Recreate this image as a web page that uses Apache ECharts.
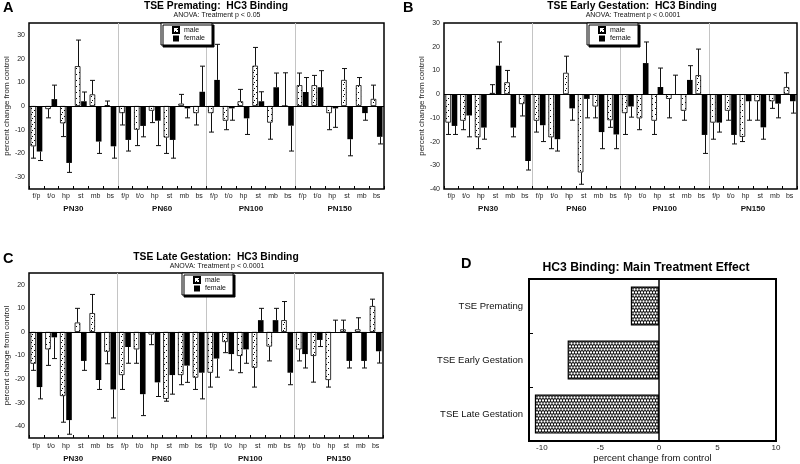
<!DOCTYPE html>
<html><head><meta charset="utf-8">
<script src="https://cdn.jsdelivr.net/npm/echarts@6/dist/echarts.min.js"></script>
<style>html,body{margin:0;padding:0;background:#fff}#c{width:800px;height:464px}</style>
</head><body><div id="c"></div>
<script>
// ---------- data ----------
const regions = ['f/p','t/o','hp','st','mb','bs'];
const ages = ['PN30','PN60','PN100','PN150'];
const legendNames = ['male','female'];

// Panel A: TSE Premating (error values signed: direction of the error bar)
const A_male      = [-17,-1.3,-7.3,16.8,4.9,0.3, -3,-10,-2,-13.3,1,-3, -3,-6.2,2,17,-7,0, 8.8,8.8,-3,11,8.8,3];
const A_maleErr   = [-5,-3.7,-5.6,11,5.9,1.8, -5,-6.7,-5,-6.7,3.9,-5, -8,-3.8,5,7.7,-7,14, 5.1,4.1,-7,4.8,3.2,5.8];
const A_female    = [-19.2,2.9,-24,2,-15,-17, -14.3,-8.4,-6.2,-14.3,-1,6, 11,-1,-5.2,2,7.9,-8.3, 5.9,7.9,-1,-14,-3,-13];
const A_femaleErr = [-3.8,5.9,-4,3.9,-5,-5, -4.7,-4.6,-10.5,-7.7,-4,10.8, 15,-5,-6.8,4,6,-10.7, 6.1,7,-8,-7,-3,-3];

// Panel B: TSE Early Gestation
const B_male      = [-12,-11.2,-18.2,0.5,5,-4.2, -11.2,-18.2,9,-33,-5.2,-11, -8,-10.2,-11.2,-2,-7,8, -12,-7,-18,-3,-3,3];
const B_maleErr   = [-5,-3.8,-4.8,3.5,5,-5, -4.8,-4.8,7,-5,-4.8,-3, -9,-4.8,-5.8,-8,-4,11, -7,-4,-2,-8,-3,6];
const B_female    = [-13.4,-9,-14.1,12,-14.1,-28.2, -13.1,-19,-6,-2,-16,-17, -5.2,13.1,3,0,6,-17.2, -12,-17.2,-3,-14,-4,-3];
const B_femaleErr = [-3.6,-9,-4.9,10,-3.9,-3.8, -6.9,-5,-5,-8,-7,-6, -4.5,8.9,8,8,6,-7.8, -4,-3.8,-8,-5,-6,-5];

// Panel C: TSE Late Gestation
const C_male      = [-13.5,-7.4,-27.2,4,8,-8.4, -18.3,-7.4,-1.1,-28.4,-18.3,-19.4, -17.3,-4.3,-10.2,-15.2,-6.2,5, -7.4,-10.2,-20.4,1.1,1.1,11];
const C_maleErr   = [-2.8,-6.8,-11.1,6,7.9,-5.1, -6.1,-5.9,-4.3,-1,-4.1,-5, -6.1,-4.5,-7.1,-8.2,-6.1,7.9, -4.9,-11.1,-3,3.9,4.9,2.9];
const C_female    = [-23.4,-2.3,-37.4,-12.3,-20.4,-24.4, -6.4,-26.4,-21.4,-18.3,-14.3,-17.3, -11.3,-9.4,-7.4,5,5,-17.3, -9.4,-3.4,0,-12.3,-12.3,-8.2];
const C_femaleErr = [-5,-9,-6,-4,-4,-12.1, -6.9,-9.1,-6,-8.1,-7.1,-11.1, -7.9,-6.8,-5.9,5,5,-5.1, -5.9,-2.8,5,-3,-3,-5];

// Panel D: main treatment effect
const D_categories = ['TSE Premating','TSE Early Gestation','TSE Late Gestation'];
const D_values = [-2.4,-7.8,-10.6];
const D_ticks = [-10,-5,0,5,10];

const titles = [
  {letter:'A', title:'TSE Premating:  HC3 Binding', sub:'ANOVA: Treatment p < 0.05'},
  {letter:'B', title:'TSE Early Gestation:  HC3 Binding', sub:'ANOVA: Treatment p < 0.0001'},
  {letter:'C', title:'TSE Late Gestation:  HC3 Binding', sub:'ANOVA: Treatment p < 0.0001'}
];

// ---------- patterns ----------
function sparseDots(){
  const c=document.createElement('canvas'); c.width=6; c.height=6;
  const g=c.getContext('2d'); g.fillStyle='#fff'; g.fillRect(0,0,6,6);
  g.fillStyle='#000'; g.fillRect(1,0,1,1); g.fillRect(4,2,1,1); g.fillRect(2,4,1,1);
  return c;
}
function denseDots(){
  const c=document.createElement('canvas'); c.width=6; c.height=6;
  const g=c.getContext('2d'); g.fillStyle='#111'; g.fillRect(0,0,6,6);
  g.fillStyle='#fff';
  [[1.5,1.5],[4.5,1.5],[0,4.5],[3,4.5],[6,4.5]].forEach(p=>{g.beginPath();g.arc(p[0],p[1],1.15,0,Math.PI*2);g.fill();});
  return c;
}
const malePattern = {image: sparseDots(), repeat:'repeat'};
const dPattern = {image: denseDots(), repeat:'repeat'};

const FONT = '"Liberation Sans", Arial, Helvetica, sans-serif';
const cats24 = [].concat(...ages.map(()=>regions));

const panels = [
  {grid:{left:29, top:23, width:355, height:166}, male:A_male, maleErr:A_maleErr, female:A_female, femaleErr:A_femaleErr, min:-35, max:35, catMargin:4, grpMargin:16, legend:{left:161, top:23}, tx:216, ty:6},
  {grid:{left:444, top:23, width:353, height:166}, male:B_male, maleErr:B_maleErr, female:B_female, femaleErr:B_femaleErr, min:-40, max:30, catMargin:4, grpMargin:16, legend:{left:587, top:23}, tx:632, ty:6},
  {grid:{left:29, top:273, width:354, height:165}, male:C_male, maleErr:C_maleErr, female:C_female, femaleErr:C_femaleErr, min:-45, max:25, catMargin:5, grpMargin:17, legend:{left:182, top:273}, tx:216, ty:257}
];

const BW = 5.6, OFF = 3.15;
function renderErr(params, api){
  const i=api.value(0), v=api.value(1), e=api.value(2), s=api.value(3);
  const p0=api.coord([i,v]), p1=api.coord([i,v+e]);
  const x=Math.round(p0[0]+s*OFF)+0.5;
  return {type:'group', children:[
    {type:'line', shape:{x1:x,y1:p0[1],x2:x,y2:p1[1]}, style:{stroke:'#111', lineWidth:1}},
    {type:'line', shape:{x1:x-2.5,y1:p1[1],x2:x+2.5,y2:p1[1]}, style:{stroke:'#111', lineWidth:1}}
  ]};
}

const grid=[], xAxis=[], yAxis=[], series=[], legend=[], graphic=[];
panels.forEach((p,k)=>{
  grid.push(Object.assign({show:true, borderColor:'#000', borderWidth:1.5, backgroundColor:'#fff'}, p.grid));
  xAxis.push({type:'category', gridIndex:k, data:cats24, position:'bottom',
    axisLine:{show:false, onZero:false}, axisTick:{show:true, inside:true, length:3, interval:0, lineStyle:{color:'#000'}},
    axisLabel:{interval:0, fontSize:7, margin:p.catMargin, color:'#222'}, splitLine:{show:false}});
  xAxis.push({type:'category', gridIndex:k, data:ages, position:'bottom',
    axisLine:{show:false, onZero:false}, axisTick:{show:false},
    axisLabel:{interval:0, fontSize:8, fontWeight:'bold', margin:p.grpMargin, color:'#111'},
    splitLine:{show:true, interval:0, showMinLine:false, showMaxLine:false, lineStyle:{color:'#c4c4c4', width:1}}});
  yAxis.push({type:'value', gridIndex:k, min:p.min, max:p.max, interval:5,
    axisLine:{show:false, onZero:false}, axisTick:{show:false}, splitLine:{show:false},
    axisLabel:{fontSize:7, margin:4, color:'#222', formatter:v=>(v%10===0?String(v):'')},
    name:'percent change from control', nameLocation:'middle', nameGap:17,
    nameTextStyle:{fontSize:8, color:'#222'}});
  series.push({type:'bar', name:'male', xAxisIndex:2*k, yAxisIndex:k, data:p.male, barWidth:BW, barGap:'12%',
    itemStyle:{color:malePattern, borderColor:'#000', borderWidth:0.8},
    markLine:{silent:true, symbol:'none', label:{show:false}, lineStyle:{color:'#000', width:1, type:'solid'}, data:[{yAxis:0}]}});
  series.push({type:'bar', name:'female', xAxisIndex:2*k, yAxisIndex:k, data:p.female, barWidth:BW, barGap:'12%',
    itemStyle:{color:'#000'}});
  const errData = p.male.map((v,i)=>[i,v,p.maleErr[i],-1]).concat(p.female.map((v,i)=>[i,v,p.femaleErr[i],1]));
  series.push({type:'custom', name:'error', xAxisIndex:2*k, yAxisIndex:k, data:errData, renderItem:renderErr, z:3,
    encode:{x:0, y:1}});
  legend.push({left:p.legend.left, top:p.legend.top, orient:'vertical', data:legendNames, icon:'rect',
    itemWidth:6, itemHeight:6, itemGap:1, padding:[3,7,3,11], backgroundColor:'#fff', borderColor:'#000', borderWidth:1,
    shadowColor:'#000', shadowBlur:0, shadowOffsetX:2, shadowOffsetY:2, selectedMode:false,
    textStyle:{fontSize:7, color:'#111', lineHeight:7}});
  const t = titles[k];
  graphic.push({type:'text', x:(k===1?403:3), y:p.ty+1.5, style:{text:t.letter, fontSize:14.5, fontWeight:'bold', fontFamily:FONT, fill:'#000', align:'left', textAlign:'left', verticalAlign:'middle', textVerticalAlign:'middle'}});
  graphic.push({type:'text', x:p.tx, y:p.ty, style:{text:t.title, fontSize:10.3, fontWeight:'bold', fontFamily:FONT, fill:'#000', align:'center', textAlign:'center', verticalAlign:'middle', textVerticalAlign:'middle'}});
  graphic.push({type:'text', x:p.tx+1, y:p.ty+9, style:{text:t.sub, fontSize:7, fontFamily:FONT, fill:'#111', align:'center', textAlign:'center', verticalAlign:'middle', textVerticalAlign:'middle'}});
});

// Panel D
grid.push({show:true, left:529, top:279, width:247, height:164, borderColor:'#000', borderWidth:2, backgroundColor:'#fff'});
xAxis.push({type:'value', gridIndex:3, min:-11.1, max:10,
  axisLine:{show:false, onZero:false}, axisTick:{show:false}, splitLine:{show:false},
  axisLabel:{fontSize:8, margin:3, color:'#222', customValues:D_ticks, formatter:v=>(Math.abs(v%5)<1e-9?String(v):'')},
  name:'percent change from control', nameLocation:'middle', nameGap:10, nameTextStyle:{fontSize:9.5, color:'#111'}});
yAxis.push({type:'category', gridIndex:3, data:D_categories, inverse:true, position:'left',
  axisLine:{show:false, onZero:false}, axisTick:{show:true, inside:true, length:4, lineStyle:{color:'#000'}},
  axisLabel:{fontSize:9.5, margin:6, color:'#111'}});
series.push({type:'bar', name:'main effect', xAxisIndex:6, yAxisIndex:3, data:D_values, barWidth:39,
  itemStyle:{color:dPattern, borderColor:'#000', borderWidth:1.2},
  markLine:{silent:true, symbol:'none', label:{show:false}, lineStyle:{color:'#000', width:1.5, type:'solid'}, data:[{xAxis:0}]}});
graphic.push({type:'text', x:461, y:264, style:{text:'D', fontSize:14.5, fontWeight:'bold', fontFamily:FONT, fill:'#000', align:'left', textAlign:'left', verticalAlign:'middle', textVerticalAlign:'middle'}});
graphic.push({type:'text', x:646, y:268, style:{text:'HC3 Binding: Main Treatment Effect', fontSize:12.2, fontWeight:'bold', fontFamily:FONT, fill:'#000', align:'center', textAlign:'center', verticalAlign:'middle', textVerticalAlign:'middle'}});

const chart = echarts.init(document.getElementById('c'), null, {renderer:'canvas'});
chart.setOption({
  animation:false,
  backgroundColor:'#fff',
  textStyle:{fontFamily:FONT},
  grid, xAxis, yAxis, series, legend, graphic
});
</script></body></html>
